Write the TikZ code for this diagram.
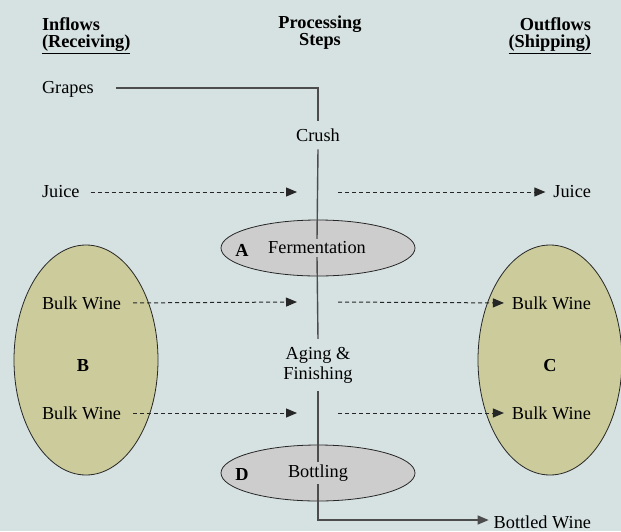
\documentclass[tikz,border=0pt]{standalone}
\usepackage{fontspec}
\setmainfont{Liberation Serif}
\usetikzlibrary{arrows.meta,shapes.geometric}
\definecolor{bgcol}{HTML}{D6E1E1}
\definecolor{ellgray}{HTML}{CDCDCD}
\definecolor{ellolive}{HTML}{CBCB9C}
\begin{document}
\begin{tikzpicture}[x=1pt,y=-1pt,
  lbl/.style={font=\fontsize{18.3}{20}\selectfont, inner sep=0pt, outer sep=0pt},
  hdr/.style={font=\fontsize{18.3}{20}\selectfont\bfseries, inner sep=0pt, outer sep=0pt},
  grayell/.style={ellipse, draw=black!85, fill=ellgray, line width=0.8pt, minimum width=194pt, minimum height=56pt, inner sep=0pt},
  oliveell/.style={ellipse, draw=black!85, fill=ellolive, line width=0.8pt, minimum width=144pt, minimum height=230pt, inner sep=0pt},
  flowline/.style={draw=black!70, line width=1.4pt},
  dashflow/.style={draw=black!85, line width=1pt, dash pattern=on 4pt off 3pt, -{Triangle[length=11pt,width=9pt]}},
]
\fill[bgcol] (0,0) rectangle (621,531);
\useasboundingbox (0,0) rectangle (621,531);

% headers
\node[hdr, anchor=west] (inflows) at (42,24) {Inflows};
\node[hdr, anchor=west] (receiving) at (42,44) {\underline{(Receiving)}};
\node[hdr, align=center, font=\fontsize{18.3}{16}\selectfont\bfseries] (procsteps) at (320,33) {Processing\\Steps};
\node[hdr, anchor=east] (outflows) at (591,24) {Outflows};
\node[hdr, anchor=east] (shipping) at (591,44) {\underline{(Shipping)}};

% ellipses
\node[oliveell] (B) at (86,360) {};
\node[oliveell] (C) at (550,360) {};
\node[grayell] (A) at (318,248) {};
\node[grayell] (D) at (318,473) {};

\node[hdr] (Blbl) at (83,366) {B};
\node[hdr] (Clbl) at (550,366) {C};
\node[hdr] (Albl) at (242,250) {A};
\node[hdr] (Dlbl) at (242,475) {D};

% processing steps
\node[lbl, inner ysep=8pt] (crush) at (318,135) {Crush};
\node[lbl, inner ysep=3pt] (ferm) at (317,248) {Fermentation};
\node[lbl, inner ysep=8pt, align=center] (aging) at (318,365) {Aging \&\\Finishing};
\node[lbl, inner ysep=3pt] (bottling) at (318,473) {Bottling};

% inflows / outflows
\node[lbl, anchor=west] (grapes) at (42,89) {Grapes};
\node[lbl, anchor=west] (juiceL) at (42,192) {Juice};
\node[lbl, anchor=east] (juiceR) at (591,192) {Juice};
\node[lbl, anchor=west] (bwL1) at (42,303) {Bulk Wine};
\node[lbl, anchor=west] (bwL2) at (42,413) {Bulk Wine};
\node[lbl, anchor=east] (bwR1) at (591,303) {Bulk Wine};
\node[lbl, anchor=east] (bwR2) at (591,413) {Bulk Wine};
\node[lbl, anchor=east] (bottled) at (591,522) {Bottled Wine};

% coordinates
\coordinate (jl) at (297,192);
\coordinate (jr) at (338,192);
\coordinate (b1l) at (297,302);
\coordinate (b1r) at (338,302);
\coordinate (b2l) at (297,413);
\coordinate (b2r) at (338,413);
\coordinate (bc) at (318,520);

% solid flow
\draw[flowline] ([xshift=22pt,yshift=1pt]grapes.east) -- ([yshift=1pt]grapes.east -| crush.north) -- (crush.north);
\draw[flowline] (crush.south) -- (ferm.north);
\draw[flowline] (ferm.south) -- (aging.north);
\draw[flowline] (aging.south) -- (bottling.north);
\draw[flowline, -{Triangle[length=11pt,width=9pt]}, shorten >=5pt] (bottling.south) -- (bc) -- (bc -| bottled.west);

% dashed flows
\draw[dashflow, shorten <=11pt] (juiceL.east) -- (jl);
\draw[dashflow, shorten >=8pt] (jr) -- (juiceR.west);
\draw[dashflow, shorten <=12pt] (bwL1.east) -- (b1l);
\draw[dashflow, shorten >=8pt] (b1r) -- (bwR1.west);
\draw[dashflow, shorten <=12pt] (bwL2.east) -- (b2l);
\draw[dashflow, shorten >=8pt] (b2r) -- (bwR2.west);
\end{tikzpicture}
\end{document}
